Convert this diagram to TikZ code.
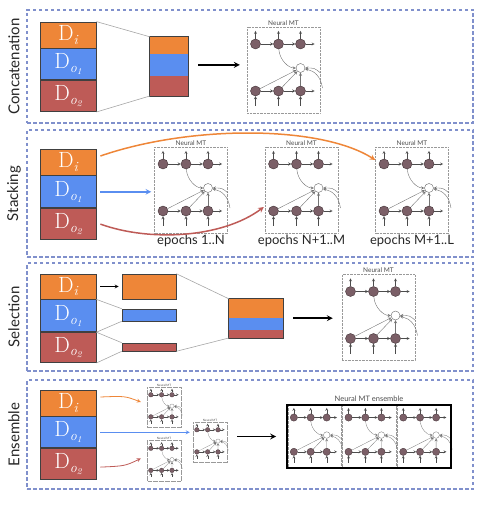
\documentclass[tikz,border=0pt]{standalone}
\usepackage{fontspec}
\setsansfont{Lato}
\usepackage{xcolor}
\usepackage{tikz}
\usetikzlibrary{shapes,arrows,positioning,fit,backgrounds}

\definecolor{dorange}{HTML}{EE8638}
\definecolor{dblue}{HTML}{5A8EF0}
\definecolor{dred}{HTML}{BE5B57}
\definecolor{unitfill}{HTML}{7B5F67}
\definecolor{unitdraw}{HTML}{3F3034}
\definecolor{panelblue}{HTML}{8090CC}

\newcommand{\dname}[1]{D\raisebox{-0.4ex}{\fontsize{14}{14}\selectfont\itshape #1}}
\newcommand{\osub}[1]{o\raisebox{-0.35ex}{\fontsize{9}{9}\selectfont #1}}

\tikzset{
  nmtframe/.style={draw=black!40, densely dotted, minimum width=73pt, minimum height=86pt, inner sep=0pt},
  unit/.style={circle, draw=unitdraw, fill=unitfill, minimum size=10pt, inner sep=0pt},
  attn/.style={circle, draw=black!60, fill=white, minimum size=9pt, inner sep=0pt},
  nmtarrow/.style={->, >=stealth, draw=black!70},
  nmt/.pic={
    \node[nmtframe] (-frame) at (0,0) {};
    \foreach \i/\x in {1/-28,2/-5,3/17}{
      \node[unit] (-t\i) at (\x,-26) {};
      \node[unit] (-b\i) at (\x,21) {};
      \draw[nmtarrow] (-t\i.north) -- +(0,-8);
      \draw[nmtarrow, <-] (-b\i.south) -- +(0,10);
    }
    \node[attn] (-att) at (17,-2) {};
    \draw[nmtarrow] (-t1) -- (-t2);
    \draw[nmtarrow] (-t2) -- (-t3);
    \draw[nmtarrow] (-t3.east) -- +(9,0);
    \draw[nmtarrow] (-b1) -- (-b2);
    \draw[nmtarrow] (-b2) -- (-b3);
    \draw[nmtarrow] (-b3.east) -- +(9,0);
    \foreach \i in {1,2,3}
      \draw[nmtarrow, draw=black!55] (-b\i) -- (-att);
    \draw[nmtarrow, draw=black!55] (-t2) .. controls +(1,16) and +(-12,0) .. (-att);
    \coordinate (-r1) at (39,18);
    \coordinate (-r2) at (37,3);
    \draw[nmtarrow, draw=black!55] (-r1) .. controls (37,6) and (31,1) .. (-att);
    \draw[nmtarrow, draw=black!55] (-r2) .. controls (31,-2) .. (-att);
  }
}

\begin{document}
\begin{tikzpicture}[x=1pt, y=-1pt]
\tikzstyle{panel} = [draw=panelblue, dash pattern=on 3.5pt off 2.5pt, line width=1.1pt, minimum width=446pt, inner sep=0pt]
\tikzstyle{side} = [rotate=90, font=\sffamily\fontsize{15}{15}\selectfont, text=black!85]
\tikzstyle{data} = [rectangle, draw=black!75, line width=0.8pt, text=white, minimum width=56pt, inner sep=0pt, font=\fontsize{22}{22}\selectfont]
\tikzstyle{bar} = [rectangle, inner sep=0pt, minimum width=54pt, line width=0.4pt]
\tikzstyle{nmttitle} = [font=\sffamily\fontsize{6.5}{7}\selectfont, text=black!70, inner sep=1pt]
\tikzstyle{epochs} = [font=\sffamily\fontsize{13}{13}\selectfont, text=black!85, inner sep=1pt]
\tikzstyle{link} = [draw=black!35, line width=0.6pt]
\tikzstyle{arrow} = [->, >=stealth, line width=1.6pt]
\tikzstyle{feed} = [->, >=stealth, line width=1.5pt]

\useasboundingbox (0,0) rectangle (480,505);

\node[panel, minimum height=113pt] (p1) at (250,66.5) {};
\node[side] (l1) at (14,66.5) {Concatenation};
\node[data, fill=dorange, minimum height=26pt] (c-di) at (68,35) {\dname{i}};
\node[data, fill=dblue, minimum height=31pt, below=0pt of c-di] (c-do1) {\dname{\osub{1}}};
\node[data, fill=dred, minimum height=31pt, below=0pt of c-do1] (c-do2) {\dname{\osub{2}}};
\node[bar, fill=dorange, draw=dorange, minimum width=38pt, minimum height=17pt] (c-bo) at (169,45.5) {};
\node[bar, fill=dblue, draw=dblue, minimum width=38pt, minimum height=21pt, below=0pt of c-bo] (c-bb) {};
\node[bar, fill=dred, draw=dred, minimum width=38pt, minimum height=20pt, below=0pt of c-bb] (c-br) {};
\node[draw=black!75, line width=0.8pt, fit=(c-bo)(c-br), inner sep=0pt] (c-bar) {};
\pic (c1) at (283.5,70) {nmt};
\node[nmttitle, above=0.5pt of c1-frame] (c1-title) {Neural MT};
\draw[link] (c-di.north east) -- (c-bo.north west);
\draw[link] (c-do2.south east) -- (c-br.south west);
\draw[arrow] ([xshift=10pt]c-bb.east) -- ([xshift=-7pt]c-bb.east -| c1-frame.west);

\node[panel, minimum height=127pt] (p2) at (250,193.5) {};
\node[side] (l2) at (14,193.5) {Stacking};
\node[data, fill=dorange, minimum height=26pt] (s-di) at (68,162) {\dname{i}};
\node[data, fill=dblue, minimum height=32pt, below=0pt of s-di] (s-do1) {\dname{\osub{1}}};
\node[data, fill=dred, minimum height=31pt, below=0pt of s-do1] (s-do2) {\dname{\osub{2}}};
\pic (s1) at (191,190) {nmt};
\pic (s2) at (301.5,190) {nmt};
\pic (s3) at (412,190) {nmt};
\node[nmttitle, above=0.5pt of s1-frame] (s1-title) {Neural MT};
\node[nmttitle, above=0.5pt of s2-frame] (s2-title) {Neural MT};
\node[nmttitle, above=0.5pt of s3-frame] (s3-title) {Neural MT};
\node[epochs, below=1pt of s1-frame] (s1-ep) {epochs 1..N};
\node[epochs, below=1pt of s2-frame] (s2-ep) {epochs N+1..M};
\node[epochs, below=1pt of s3-frame] (s3-ep) {epochs M+1..L};
\draw[feed, dorange] ([xshift=4pt,yshift=6pt]s-di.east) .. controls (190,125) and (320,125) .. ([yshift=30pt]s3-frame.west);
\draw[feed, dblue] ([xshift=4pt]s-do1.east) -- ([xshift=-3pt]s-do1.east -| s1-frame.west);
\draw[feed, dred] ([xshift=4pt]s-do2.east) .. controls (150,242) and (222,238) .. ([xshift=-1pt,yshift=-17pt]s2-frame.west);

\node[panel, minimum height=108pt] (p3) at (250,317) {};
\node[side] (l3) at (14,317) {Selection};
\node[data, fill=dorange, minimum height=25pt] (e-di) at (68,286.5) {\dname{i}};
\node[data, fill=dblue, minimum height=32pt, below=0pt of e-di] (e-do1) {\dname{\osub{1}}};
\node[data, fill=dred, minimum height=30pt, below=0pt of e-do1] (e-do2) {\dname{\osub{2}}};
\node[bar, draw=black!75, line width=0.6pt, fill=dorange, minimum height=25pt] (e-bo) at (149,286.5) {};
\node[bar, draw=black!75, line width=0.6pt, fill=dblue, minimum height=12pt] (e-bb) at (149,315) {};
\node[bar, draw=black!75, line width=0.6pt, fill=dred, minimum height=8pt] (e-br) at (149,347) {};
\node[bar, fill=dorange, draw=dorange, minimum height=19pt] (e-mo) at (256,308.5) {};
\node[bar, fill=dblue, draw=dblue, minimum height=11pt, below=0pt of e-mo] (e-mb) {};
\node[bar, fill=dred, draw=dred, minimum height=8pt, below=0pt of e-mb] (e-mr) {};
\node[draw=black!75, line width=0.8pt, fit=(e-mo)(e-mr), inner sep=0pt] (e-bar) {};
\pic (e1) at (378.5,317.5) {nmt};
\node[nmttitle, above=0.5pt of e1-frame] (e1-title) {Neural MT};
\draw[->, >=stealth, line width=0.8pt] ([xshift=4pt]e-di.east) -- ([xshift=-3pt]e-bo.west);
\draw[link] (e-di.south east) -- (e-bb.north west);
\draw[link] (e-do1.south east) -- (e-bb.south west);
\draw[link] (e-do2.north east) -- (e-br.north west);
\draw[link] (e-do2.south east) -- (e-br.south west);
\draw[link] (e-bo.north east) -- (e-mo.north west);
\draw[link] (e-br.south east) -- (e-mr.south west);
\draw[arrow] ([xshift=10pt]e-mb.north east) -- ([xshift=-9pt]e-mb.north east -| e1-frame.west);

\node[panel, minimum height=109pt] (p4) at (250,434.5) {};
\node[side] (l4) at (14,434.5) {Ensemble};
\node[data, fill=dorange, minimum height=26pt] (n-di) at (68,403) {\dname{i}};
\node[data, fill=dblue, minimum height=31pt, below=0pt of n-di] (n-do1) {\dname{\osub{1}}};
\node[data, fill=dred, minimum height=31pt, below=0pt of n-do1] (n-do2) {\dname{\osub{2}}};
\pic[scale=0.47, transform shape, line width=0.2pt] (na) at (164,407) {nmt};
\pic[scale=0.47, transform shape, line width=0.2pt] (nb) at (210,442) {nmt};
\pic[scale=0.47, transform shape, line width=0.2pt] (nc) at (164,460.5) {nmt};
\node[nmttitle, font=\sffamily\fontsize{3}{3}\selectfont, inner sep=0.5pt, above=0pt of na-frame] (na-title) {Neural MT};
\node[nmttitle, font=\sffamily\fontsize{3}{3}\selectfont, inner sep=0.5pt, above=0pt of nb-frame] (nb-title) {Neural MT};
\node[nmttitle, font=\sffamily\fontsize{3}{3}\selectfont, inner sep=0.5pt, above=0pt of nc-frame] (nc-title) {Neural MT};
\pic[scale=0.73, transform shape, line width=0.3pt] (m1) at (314.3,436.5) {nmt};
\pic[scale=0.73, transform shape, line width=0.3pt] (m2) at (369,436.5) {nmt};
\pic[scale=0.73, transform shape, line width=0.3pt] (m3) at (423.7,436.5) {nmt};
\node[draw, line width=1.8pt, minimum width=164pt, minimum height=63pt, inner sep=0pt] (ens) at (369,436.5) {};
\node[nmttitle, font=\sffamily\fontsize{7.5}{8}\selectfont, above=1pt of ens] (ens-title) {Neural MT ensemble};
\draw[->, >=stealth, line width=0.8pt, dorange] ([xshift=4pt,yshift=6pt]n-di.east) .. controls (125,396) .. ([xshift=-6pt,yshift=5pt]na-frame.west);
\draw[->, >=stealth, line width=0.8pt, dblue] ([xshift=4pt]n-do1.east) -- ([xshift=-3pt]n-do1.east -| nb-frame.west);
\draw[->, >=stealth, line width=0.8pt, dred] ([xshift=4pt,yshift=-3pt]n-do2.east) .. controls (125,466) .. ([xshift=-6pt,yshift=2pt]nc-frame.west);
\draw[arrow] ([xshift=10pt]ens.west -| nb-frame.east) -- ([xshift=-10pt]ens.west);
\end{tikzpicture}
\end{document}
